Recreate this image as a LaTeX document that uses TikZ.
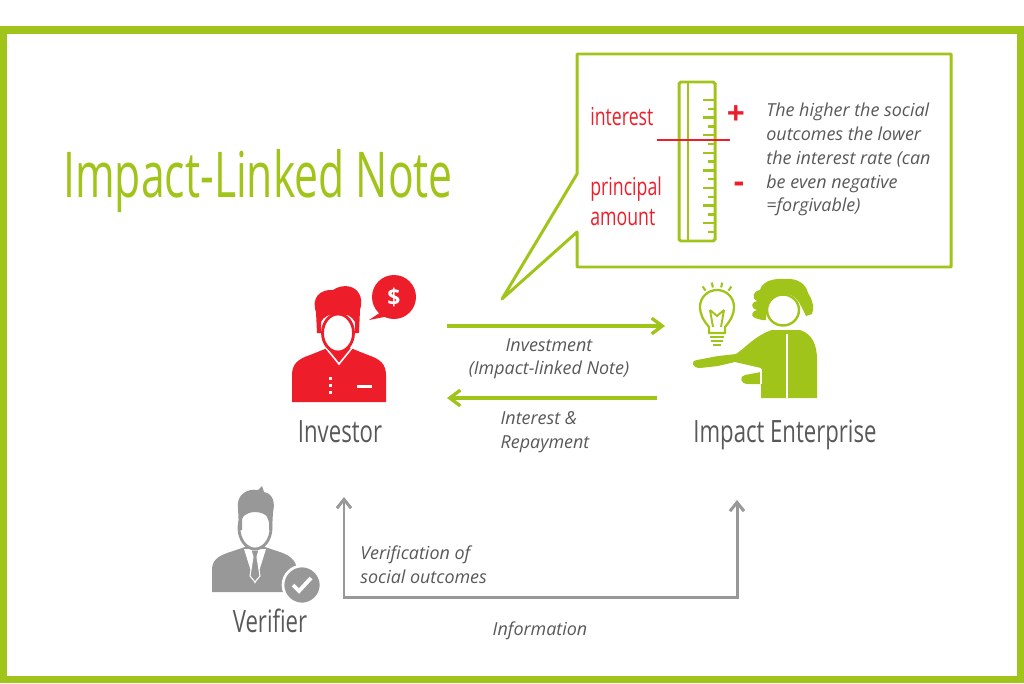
\documentclass[tikz,border=0pt]{standalone}
\usepackage{fontspec}
\setmainfont{Open Sans}
\newfontfamily\titlefont[FakeStretch=0.675]{Open Sans}
\newfontfamily\condfont[FakeStretch=0.72]{Open Sans}
\usepackage{xcolor}
\usepackage{tikz}
\usetikzlibrary{calc, arrows.meta, positioning}

\definecolor{ilgreen}{RGB}{161,196,26}
\definecolor{ilred}{RGB}{237,30,42}
\definecolor{ilgrey}{RGB}{152,152,152}
\definecolor{iltext}{RGB}{88,88,88}

\begin{document}
\begin{tikzpicture}[x=0.02cm, y=-0.02cm, >={Straight Barb[length=6pt, width=9pt]}]
		\tikzstyle{frame} = [draw=ilgreen, line width=4pt]
		\tikzstyle{callout} = [draw=ilgreen, line width=1.7pt, line join=round]
		\tikzstyle{garrow} = [draw=ilgreen, line width=1.9pt, ->]
		\tikzstyle{grarrow} = [draw=ilgrey, line width=1.7pt, <->, >={Straight Barb[length=5pt, width=8pt]}]
		\tikzstyle{title} = [text=ilgreen, font=\titlefont\fontsize{36}{40}\selectfont, inner sep=0pt]
		\tikzstyle{who} = [text=iltext, font=\condfont\fontsize{17.5}{20}\selectfont, inner sep=0pt]
		\tikzstyle{redtxt} = [text=ilred, font=\condfont\fontsize{14}{17.5}\selectfont, inner sep=0pt, align=left]
		\tikzstyle{lbl} = [text=iltext, font=\itshape\fontsize{10.2}{13.5}\selectfont, inner sep=0pt]
		
		\useasboundingbox (0,0) rectangle (1024,683);
		\draw[frame] (3.5,30) rectangle (1020.5,679.5);
		
		% title
		\node[title, anchor=base west] at (63,197) (title) {Impact-Linked Note};
		
		% callout with ruler
		\draw[callout] (577,54) -- (951,54) -- (951,267) -- (577,267) -- (577,232) -- (502,299) -- (577,174) -- cycle;
		\draw[ilgreen, line width=1.7pt, rounded corners=1pt] (679,82) rectangle (715,241);
		\draw[ilgreen, line width=1.5pt] (688,82) -- (688,241);
		\foreach \i in {0,...,15} {
			\pgfmathsetmacro{\ty}{100+\i*8.8}
			\ifodd\i
				\draw[ilgreen, line width=1.3pt] (708,\ty) -- (715,\ty);
			\else
				\draw[ilgreen, line width=1.3pt] (703,\ty) -- (715,\ty);
			\fi
		}
		\draw[ilred, line width=1.2pt] (657,140) -- (730,140);
		\node[redtxt, anchor=base west] at (590,125) (interest) {interest};
		\node[redtxt, anchor=north west] at (590,176) (principal) {principal\\amount};
		\node[text=ilred, font=\bfseries\fontsize{18}{18}\selectfont] at (736,115) (plus) {+};
		\node[text=ilred, font=\bfseries\fontsize{18}{18}\selectfont] at (739,187) (minus) {-};
		\node[lbl, anchor=north west, align=left] at (766,103) (note) {The higher the social\\outcomes the lower\\the interest rate (can\\be even negative\\=forgivable)};
		
		% investor icon
		\fill[ilred] (292,402) -- (292,375) .. controls (292,364) and (298,359) .. (310,355) -- (330,347) -- (348,347) -- (368,355) .. controls (380,359) and (386,364) .. (386,375) -- (386,402) -- cycle;
		\draw[white, line width=0.9pt] (326,348) -- (339,364) -- (352,348);
		\filldraw[fill=white, draw=ilred, line width=1.6pt] (338,333) ellipse [x radius=15.5, y radius=19];
		\fill[ilred] (317,333) -- (316,312) .. controls (311,298) and (320,289) .. (333,290) .. controls (340,285) and (352,284) .. (358,292) .. controls (362,297) and (362,304) .. (360,310) -- (359,333) -- (355,333) -- (355,322) .. controls (352,316) and (346,313) .. (338,315) .. controls (330,313) and (323,317) .. (321,322) -- (321,333) -- cycle;
		\foreach \by in {377,384,391}
			\fill[white] (328.5,\by) rectangle ++(3,3);
		\fill[white] (357,384.5) rectangle (372,388);
		\fill[ilred] (394,297) circle [radius=22];
		\fill[ilred] (381,312) -- (369,320) -- (389,316) -- cycle;
		\node[text=white, font=\bfseries\fontsize{13}{13}\selectfont] at (394,297) (dollar) {\$};
		\node[who, anchor=base] at (340,442) (investor) {Investor};
		
		% enterprise icon
		\draw[ilgreen, line width=1.3pt] (709,327) .. controls (703,320) and (700,314) .. (700,307) .. controls (700,297) and (708,290) .. (717,290) .. controls (726,290) and (734,297) .. (734,307) .. controls (734,314) and (731,320) .. (725,327) -- (725,333) -- (709,333) -- cycle;
		\draw[ilgreen, line width=1.1pt] (710,310) -- (713,327) (724,310) -- (721,327) (710,310) -- (717,316) -- (724,310);
		\draw[ilgreen, line width=1.3pt] (710,337) -- (724,337) (711,341) -- (723,341) (713,345) -- (721,345);
		\foreach \a in {-55,-78,-102,-125}
			\draw[ilgreen, line width=1.2pt] ($(717,307)+(\a:20)$) -- ($(717,307)+(\a:25)$);
		\fill[ilgreen] (772,330) -- (800,330) .. controls (812,334) and (817,344) .. (817,360) -- (817,398) -- (761,398) -- (761,384) -- (748,384) .. controls (740,384) and (739,376) .. (745,375) -- (761,372) -- (761,368) -- (735,362) -- (718,366) -- (700,368) .. controls (692,368) and (690,361) .. (697,360) -- (718,356) -- (736,354) .. controls (745,348) and (756,335) .. (772,330) -- cycle;
		\draw[white, line width=0.8pt] (787,334) -- (787,398);
		\draw[white, line width=0.8pt] (761,369) -- (761,384);
		\filldraw[fill=white, draw=ilgreen, line width=1.4pt] (783,310) ellipse [x radius=16, y radius=15.5];
		\fill[ilgreen] (762,320) -- (755,318) .. controls (750,316) and (752,311) .. (757,310) .. controls (750,308) and (751,302) .. (757,301) .. controls (751,298) and (753,291) .. (760,290) .. controls (762,282) and (772,278) .. (785,279) .. controls (798,278) and (806,284) .. (808,293) .. controls (812,299) and (815,308) .. (812,314) -- (806,316) -- (801,306) .. controls (797,297) and (790,293) .. (783,294) .. controls (775,295) and (770,300) .. (767,306) -- (766,320) -- cycle;
		\node[who, anchor=base] at (785,442) (enterprise) {Impact Enterprise};
		
		% verifier icon
		\fill[ilgrey] (212,592) -- (212,570) .. controls (212,560) and (218,556) .. (230,552) -- (245,547) -- (265,547) -- (280,552) .. controls (292,556) and (297,562) .. (297,572) -- (297,592) -- cycle;
		\fill[white] (244,549) -- (255,584) -- (266,549) -- cycle;
		\filldraw[fill=ilgrey, draw=white, line width=0.6pt] (251,550) -- (259,550) -- (257,557) -- (260,576) -- (255,582) -- (250,576) -- (253,557) -- cycle;
		\filldraw[fill=white, draw=ilgrey, line width=1.6pt] (255,528) ellipse [x radius=16, y radius=21];
		\fill[ilgrey] (239,530) -- (238,508) .. controls (236,496) and (246,488) .. (258,490) -- (262,486) -- (264,492) .. controls (274,494) and (275,504) .. (273,512) -- (272,530) -- (269,530) -- (269,518) .. controls (262,510) and (248,510) .. (242,518) -- (242,530) -- cycle;
		\filldraw[fill=ilgrey, draw=white, line width=1.5pt] (302,585) circle [radius=19];
		\draw[white, line width=2.2pt] (293,585) -- (299,591) -- (311,578);
		\node[who, anchor=base] at (270,632) (verifier) {Verifier};
		
		% money flows
		\coordinate (inv-out) at (447,326);
		\coordinate (ent-in) at (665,326);
		\coordinate (ent-out) at (657,398);
		\coordinate (inv-in) at (447,398);
		\draw[garrow] (inv-out) -- node[lbl, below=6pt, align=center, xshift=-4pt] {Investment\\(Impact-linked Note)} (ent-in);
		\draw[garrow] (ent-out) -- node[lbl, below=7pt, align=left, xshift=-4pt] {Interest \&\\Repayment} (inv-in);
		
		% information flows
		\coordinate (inv-up) at (344,497);
		\coordinate (ent-up) at (737,500);
		\coordinate (low-l) at (344,597);
		\coordinate (low-r) at (737,597);
		\draw[grarrow] (inv-up) -- (low-l) -- (low-r) -- (ent-up);
		\node[lbl, anchor=base west, align=left] at (360,583) (verif) {Verification of\\social outcomes};
		\node[lbl, anchor=base] at (540,635) (info) {Information};
	\end{tikzpicture}
\end{document}
